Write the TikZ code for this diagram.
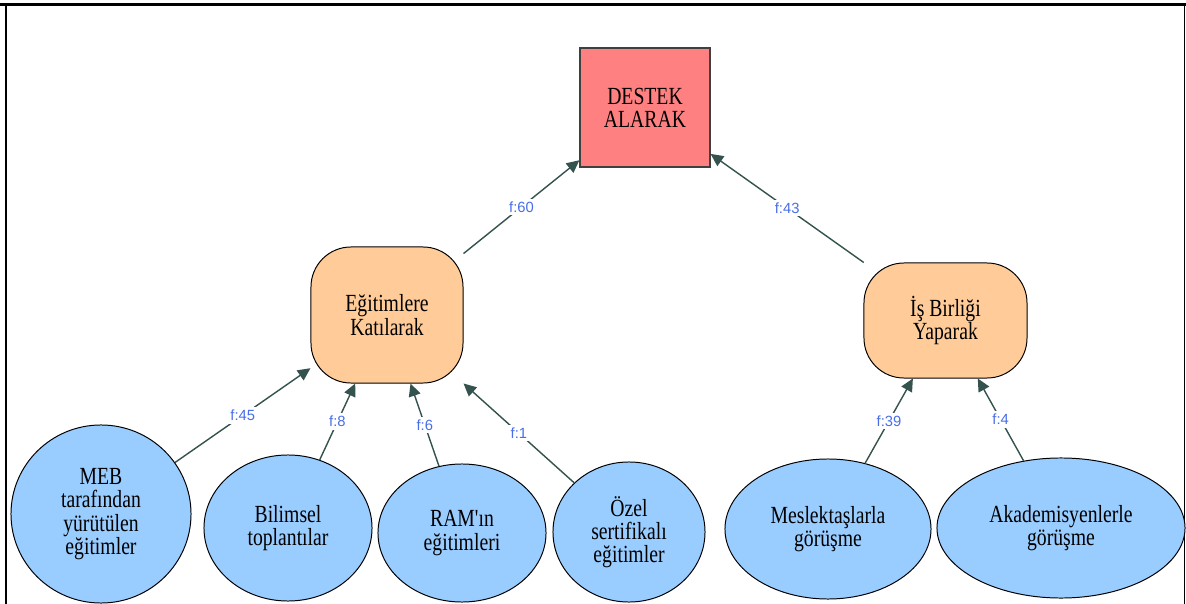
\documentclass[tikz,border=0pt]{standalone}
\usepackage{fontspec}
\setmainfont{Liberation Serif}[FakeStretch=0.8]
% node text family without TeX quote ligatures, so ' stays straight
\newfontfamily\nodefont{Liberation Serif}[FakeStretch=0.8]
\newfontfamily\labelfont{Liberation Sans}
\usetikzlibrary{shapes.geometric,arrows.meta}

\definecolor{rootred}{RGB}{255,128,128}
\definecolor{midorange}{RGB}{255,204,153}
\definecolor{leafblue}{RGB}{153,204,255}
\definecolor{edgeslate}{RGB}{52,82,78}
\definecolor{freqblue}{RGB}{72,110,232}

\tikzset{
  txt/.style={font=\nodefont\fontsize{17.5}{16.5}\selectfont, align=center, text=black},
  rootbox/.style={txt, draw=black!75, line width=0.8pt, fill=rootred, inner sep=0pt},
  midbox/.style={txt, draw=black, line width=0.7pt, fill=midorange, rounded corners=1cm, inner sep=0pt},
  leaf/.style={txt, ellipse, draw=black, line width=0.7pt, fill=leafblue, inner sep=0pt},
  link/.style={draw=edgeslate, line width=1pt, -{Triangle[length=9pt,width=8.5pt]}},
  freq/.style={font=\labelfont\fontsize{10.5}{12}\selectfont, text=freqblue, fill=white, inner sep=2pt}
}

\begin{document}
\begin{tikzpicture}[x=0.025cm, y=-0.025cm]
  \useasboundingbox (0,0) rectangle (1186,604);
  \fill[white] (0,0) rectangle (1186,604);

  % outer frame
  \draw[line width=1.9pt] (0,4.5) -- (1186,4.5);
  \draw[line width=1.6pt] (6,4.5) -- (6,604);
  \draw[line width=1.1pt] (1184.5,4.5) -- (1184.5,604);

  % root
  \node[rootbox, minimum width=3.25cm, minimum height=2.975cm] (root) at (645,107.5) {DESTEK\\ALARAK};

  % middle level
  \node[midbox, minimum width=3.8cm, minimum height=3.4cm] (egit) at (387,315) {Eğitimlere\\Katılarak};
  \node[midbox, minimum width=4.075cm, minimum height=2.875cm] (isbir) at (945.5,320.5) {İş Birliği\\Yaparak};

  % leaves
  \node[leaf, minimum width=4.5cm, minimum height=4.45cm] (meb) at (101,514) {MEB\\tarafından\\yürütülen\\eğitimler};
  \node[leaf, minimum width=4.2cm, minimum height=3.65cm] (bilim) at (288,528) {Bilimsel\\toplantılar};
  \node[leaf, minimum width=4.2cm, minimum height=3.45cm] (ram) at (462,533) {RAM'ın\\eğitimleri};
  \node[leaf, minimum width=3.8cm, minimum height=3.5cm] (ozel) at (629,532) {Özel\\sertifikalı\\eğitimler};
  \node[leaf, minimum width=5.15cm, minimum height=3.5cm] (meslek) at (828,529) {Meslektaşlarla\\görüşme};
  \node[leaf, minimum width=6.2cm, minimum height=3.5cm] (akad) at (1061,528) {Akademisyenlerle\\görüşme};

  % connectors with frequencies
  \draw[link] (egit) -- node[freq] {f:60} (root);
  \draw[link] (isbir) -- node[freq] {f:43} (root);
  \draw[link] (meb) -- node[freq] {f:45} (egit);
  \draw[link] (bilim) -- node[freq] {f:8} (egit);
  \draw[link] (ram) -- node[freq] {f:6} (egit);
  \draw[link] (ozel) -- node[freq] {f:1} (egit);
  \draw[link] (meslek) -- node[freq] {f:39} (isbir);
  \draw[link] (akad) -- node[freq] {f:4} (isbir);
\end{tikzpicture}
\end{document}
